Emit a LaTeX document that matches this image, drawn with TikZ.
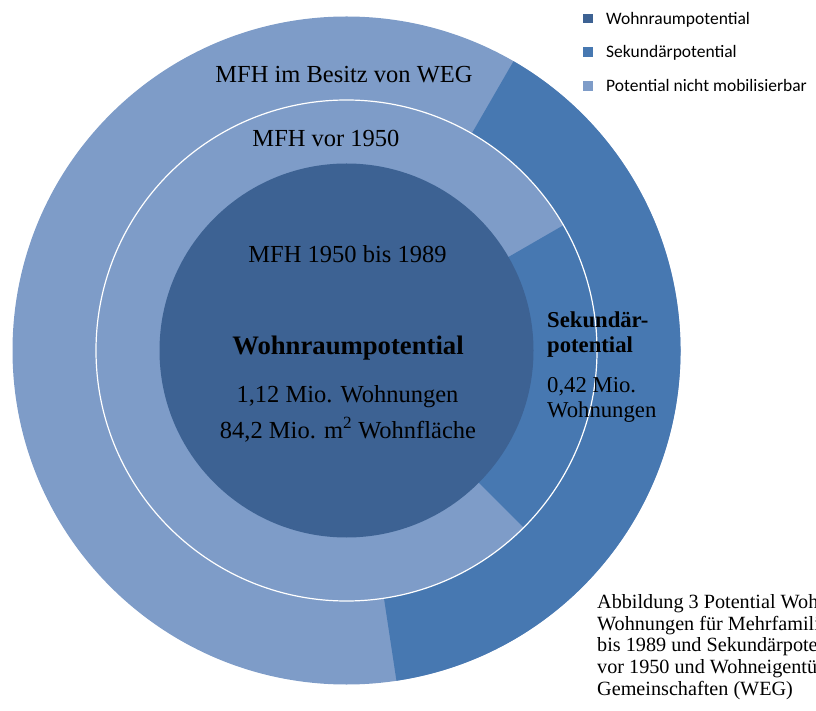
\documentclass[tikz,border=0pt]{standalone}
\usepackage{fontspec}
\setmainfont{Liberation Serif}
\newfontfamily\legfont{Carlito}
\definecolor{wohn}{HTML}{3D6293}
\definecolor{sek}{HTML}{4778B1}
\definecolor{nmob}{HTML}{7E9CC8}
\tikzset{
  lbl/.style={anchor=base, inner sep=0pt, font=\fontsize{24.5}{29}\selectfont},
  sektxt/.style={anchor=base west, inner sep=0pt, font=\fontsize{22.7}{26}\selectfont},
  legsq/.style={minimum size=9.5pt, inner sep=0pt, draw=none},
  legtxt/.style={anchor=base west, inner sep=0pt, font=\legfont\fontsize{17.5}{20}\selectfont},
  captxt/.style={anchor=base west, inner sep=0pt, font=\fontsize{20.2}{21.7}\selectfont},
}
\begin{document}
\begin{tikzpicture}[x=1pt,y=1pt]
\useasboundingbox (0,0) rectangle (816,710);
\clip (0,0) rectangle (816,710);
\coordinate (C) at (346.5,359.5);
% outer ring
\fill[nmob] (C) circle[radius=334];
\fill[sek] (C) -- ++(-81.4:334) arc[start angle=-81.4, end angle=60, radius=334] -- cycle;
% middle ring
\fill[nmob] (C) circle[radius=250.5];
\fill[sek] (C) -- ++(-45:250.5) arc[start angle=-45, end angle=30, radius=250.5] -- cycle;
\draw[white, line width=1.2pt] (C) circle[radius=250.5];
% inner circle
\fill[wohn] (C) circle[radius=187];
% labels
\node[lbl] (weg) at (344,627) {MFH im Besitz von WEG};
\node[lbl] (vor) at (326,563) {MFH vor 1950};
\node[lbl] (bis) at (347.5,447) {MFH 1950 bis 1989};
\node[lbl, font=\bfseries\fontsize{26.7}{30}\selectfont] (wp) at (348,355) {Wohnraumpotential};
\node[lbl] (wp1) at (347.5,307) {1,12 Mio. Wohnungen};
\node[lbl] (wp2) at (348,272) {84,2 Mio. m\textsuperscript{2} Wohnfläche};
\node[sektxt, font=\bfseries\fontsize{22.7}{26}\selectfont] (s1) at (547,382) {Sekundär-};
\node[sektxt, font=\bfseries\fontsize{22.7}{26}\selectfont] (s2) at (547,357) {potential};
\node[sektxt] (s3) at (547,317) {0,42 Mio.};
\node[sektxt] (s4) at (547,292) {Wohnungen};
% legend
\node[legsq, fill=wohn] (q1) at (588,691.5) {};
\node[legsq, fill=sek] (q2) at (588,658) {};
\node[legsq, fill=nmob] (q3) at (588,624) {};
\node[legtxt] (l1) at (606,685) {Wohnraumpotential};
\node[legtxt] (l2) at (606,652) {Sekundärpotential};
\node[legtxt] (l3) at (606,618) {Potential nicht mobilisierbar};
% caption (cut off at the right edge, as in the reference)
\node[captxt] (c1) at (597,102) {Abbildung 3 Potential Wohnraum in};
\node[captxt] (c2) at (597,80) {Wohnungen für Mehrfamilienhäuser};
\node[captxt] (c3) at (597,58.5) {bis 1989 und Sekundärpotential};
\node[captxt] (c4) at (597,37) {vor 1950 und Wohneigentümer-};
\node[captxt] (c5) at (597,15) {Gemeinschaften (WEG)};
\end{tikzpicture}
\end{document}
